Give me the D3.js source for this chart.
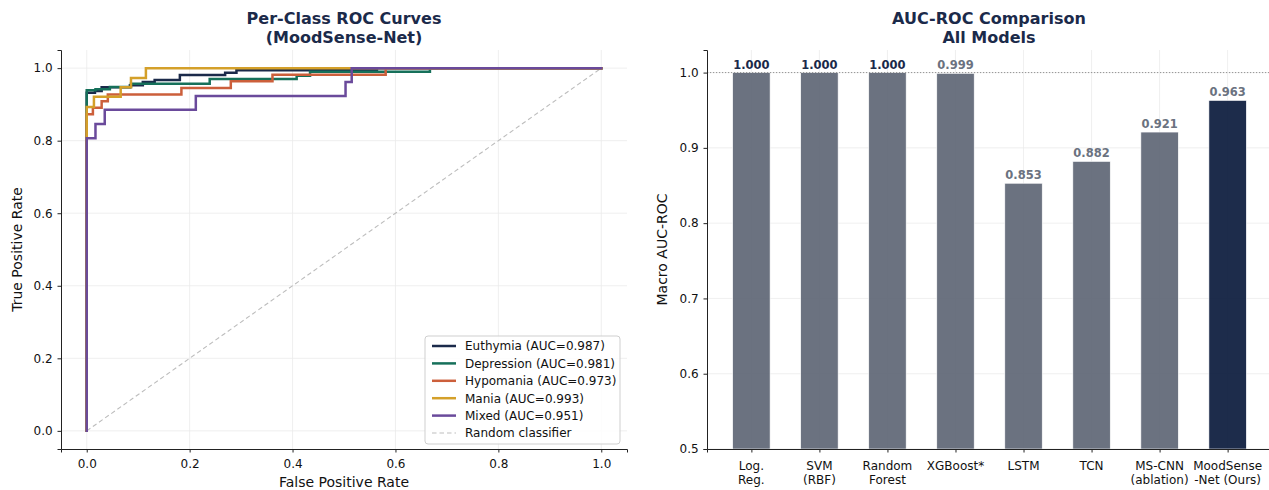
<!DOCTYPE html>
<html>
<head>
<meta charset="utf-8">
<script src="https://cdn.jsdelivr.net/npm/d3@7"></script>
<style>
  html, body { margin: 0; padding: 0; background: #ffffff; }
  svg { display: block; font-family: "DejaVu Sans", sans-serif; }
</style>
</head>
<body>
<svg id="fig" width="1269" height="490"></svg>
<script>
// ---- ROC curves per class (step points: [fpr, tpr]) ----
const classNames = ["Euthymia", "Depression", "Hypomania", "Mania", "Mixed"];
const classAUC = [0.987, 0.981, 0.973, 0.993, 0.951];

const rocEuthymia = [[0, 0], [0, 0.932], [0.016, 0.932], [0.016, 0.937], [0.029, 0.937], [0.029, 0.947],
  [0.084, 0.947], [0.084, 0.953], [0.109, 0.953], [0.109, 0.962], [0.132, 0.962], [0.132, 0.967],
  [0.181, 0.967], [0.181, 0.981], [0.269, 0.981], [0.269, 0.987], [0.291, 0.987], [0.291, 0.994],
  [0.564, 0.994], [0.564, 1], [1, 1]];
const rocDepression = [[0, 0], [0, 0.939], [0.017, 0.939], [0.017, 0.942], [0.045, 0.942], [0.045, 0.948],
  [0.086, 0.948], [0.086, 0.957], [0.239, 0.957], [0.239, 0.970], [0.408, 0.970], [0.408, 0.979],
  [0.434, 0.979], [0.434, 0.990], [0.667, 0.990], [0.667, 1], [1, 1]];
const rocHypomania = [[0, 0], [0, 0.873], [0.012, 0.873], [0.012, 0.891], [0.029, 0.891], [0.029, 0.909],
  [0.041, 0.909], [0.041, 0.927], [0.184, 0.927], [0.184, 0.945], [0.280, 0.945], [0.280, 0.964],
  [0.361, 0.964], [0.361, 0.982], [0.581, 0.982], [0.581, 1], [1, 1]];
const rocMania = [[0, 0], [0, 0.893], [0.014, 0.893], [0.014, 0.921], [0.066, 0.921], [0.066, 0.947],
  [0.086, 0.947], [0.086, 0.973], [0.115, 0.973], [0.115, 1], [1, 1]];
const rocMixed = [[0, 0], [0, 0.807], [0.017, 0.807], [0.017, 0.846], [0.035, 0.846], [0.035, 0.885],
  [0.212, 0.885], [0.212, 0.923], [0.503, 0.923], [0.503, 0.962], [0.515, 0.962], [0.515, 1], [1, 1]];
const rocCurves = [rocEuthymia, rocDepression, rocHypomania, rocMania, rocMixed];
const chanceLine = [[0, 0], [1, 1]];
const rocTicks = [0, 0.2, 0.4, 0.6, 0.8, 1.0];

// ---- Macro AUC-ROC per model ----
const modelLabels = [["Log.", "Reg."], ["SVM", "(RBF)"], ["Random", "Forest"], ["XGBoost*"], ["LSTM"],
  ["TCN"], ["MS-CNN", "(ablation)"], ["MoodSense", "-Net (Ours)"]];
const modelAUC = [1.000, 1.000, 1.000, 0.999, 0.853, 0.882, 0.921, 0.963];
const aucTicks = [0.5, 0.6, 0.7, 0.8, 0.9, 1.0];

const classColors = ["#1b2a4a", "#16705a", "#cc5f3b", "#d4a02a", "#6a4a9b"];
const NAVY = "#1b2a4a", GREY = "#6b7280";
const BAR_GREY = "#5e6675", BAR_NAVY = "#0a1a3c";

const svg = d3.select("#fig");
const font = "DejaVu Sans, sans-serif";

// ===================== left panel: ROC =====================
const L = { x0: 61, x1: 627, y0: 50, y1: 449 };
const xL = d3.scaleLinear().domain([-0.05, 1.05]).range([L.x0, L.x1]);
const yL = d3.scaleLinear().domain([-0.05, 1.05]).range([L.y1, L.y0]);
const gL = svg.append("g");

// grid
gL.append("g").selectAll("line.gx").data(rocTicks).join("line")
  .attr("x1", d => xL(d)).attr("x2", d => xL(d)).attr("y1", L.y0).attr("y2", L.y1)
  .attr("stroke", "#ebebeb").attr("stroke-width", 0.8);
gL.append("g").selectAll("line.gy").data(rocTicks).join("line")
  .attr("x1", L.x0).attr("x2", L.x1).attr("y1", d => yL(d)).attr("y2", d => yL(d))
  .attr("stroke", "#ebebeb").attr("stroke-width", 0.8);

const lineL = d3.line().x(d => xL(d[0])).y(d => yL(d[1]));

// chance diagonal
gL.append("path").datum(chanceLine).attr("d", lineL)
  .attr("fill", "none").attr("stroke", "#bdbdbd").attr("stroke-width", 1.1)
  .attr("stroke-dasharray", "4.5,3");

// class curves
rocCurves.forEach((pts, i) => {
  gL.append("path").datum(pts).attr("d", lineL)
    .attr("fill", "none").attr("stroke", classColors[i]).attr("stroke-width", 2.5)
    .attr("stroke-linejoin", "miter").attr("stroke-linecap", "square");
});

// axes
const axL = gL.append("g").attr("transform", `translate(0,${L.y1})`)
  .call(d3.axisBottom(xL).tickValues(rocTicks).tickFormat(d3.format(".1f")).tickSizeOuter(0).tickSize(3.5));
const ayL = gL.append("g").attr("transform", `translate(${L.x0},0)`)
  .call(d3.axisLeft(yL).tickValues(rocTicks).tickFormat(d3.format(".1f")).tickSizeOuter(0).tickSize(3.5));
[axL, ayL].forEach(a => {
  a.select(".domain").attr("stroke", "#222").attr("stroke-width", 1);
  a.selectAll(".tick line").attr("stroke", "#222");
  a.selectAll(".tick text").attr("font-family", font).attr("font-size", 12).attr("fill", "#111");
});
axL.selectAll(".tick text").attr("dy", "1.05em");
ayL.selectAll(".tick text").attr("dx", "-0.15em");

gL.append("text").attr("x", (L.x0 + L.x1) / 2).attr("y", 487).attr("text-anchor", "middle")
  .attr("font-size", 14).attr("fill", "#111").text("False Positive Rate");
gL.append("text").attr("transform", `translate(22,${(L.y0 + L.y1) / 2}) rotate(-90)`)
  .attr("text-anchor", "middle").attr("font-size", 14).attr("fill", "#111").text("True Positive Rate");

const tL = gL.append("text").attr("text-anchor", "middle").attr("font-size", 16)
  .attr("font-weight", "bold").attr("fill", NAVY);
tL.append("tspan").attr("x", (L.x0 + L.x1) / 2).attr("y", 24).text("Per-Class ROC Curves");
tL.append("tspan").attr("x", (L.x0 + L.x1) / 2).attr("y", 43).text("(MoodSense-Net)");

// legend
const leg = gL.append("g").attr("transform", "translate(425,336)");
leg.append("rect").attr("width", 195).attr("height", 108).attr("rx", 3)
  .attr("fill", "white").attr("fill-opacity", 0.85).attr("stroke", "#cfcfcf").attr("stroke-width", 1);
const legendItems = classNames.map((n, i) => ({ label: `${n} (AUC=${classAUC[i].toFixed(3)})`, color: classColors[i], dash: null, w: 2.5 }))
  .concat([{ label: "Random classifier", color: "#bdbdbd", dash: "4.5,3", w: 1.1 }]);
legendItems.forEach((it, i) => {
  const y = 10 + i * 17.4;
  leg.append("line").attr("x1", 7).attr("x2", 31).attr("y1", y).attr("y2", y)
    .attr("stroke", it.color).attr("stroke-width", it.w).attr("stroke-dasharray", it.dash);
  leg.append("text").attr("x", 40).attr("y", y + 4.3).attr("font-size", 12).attr("fill", "#111").text(it.label);
});

// ===================== right panel: AUC bars =====================
const R = { x0: 707, x1: 1272, y0: 50, y1: 449 };
const xR = d3.scaleLinear().domain([-0.6525, modelAUC.length - 1 + 0.6525]).range([R.x0, R.x1]);
const yR = d3.scaleLinear().domain([0.5, 1.03]).range([R.y1, R.y0]);
const bw = (xR(0.55) - xR(0));
const gR = svg.append("g");
const idx = d3.range(modelAUC.length);

gR.append("g").selectAll("line").data(idx).join("line")
  .attr("x1", d => xR(d)).attr("x2", d => xR(d)).attr("y1", R.y0).attr("y2", R.y1)
  .attr("stroke", "#ebebeb").attr("stroke-width", 0.8);
gR.append("g").selectAll("line").data(aucTicks).join("line")
  .attr("x1", R.x0).attr("x2", R.x1).attr("y1", d => yR(d)).attr("y2", d => yR(d))
  .attr("stroke", "#ebebeb").attr("stroke-width", 0.8);

gR.append("g").selectAll("rect").data(idx).join("rect")
  .attr("x", d => xR(d) - bw / 2).attr("width", bw)
  .attr("y", d => yR(modelAUC[d])).attr("height", d => yR(0.5) - yR(modelAUC[d]))
  .attr("fill", d => d === modelAUC.length - 1 ? BAR_NAVY : BAR_GREY).attr("fill-opacity", 0.92)
  .attr("stroke", "white").attr("stroke-width", 0.6);

// reference line at perfect AUC
gR.append("line").attr("x1", R.x0).attr("x2", R.x1).attr("y1", yR(1)).attr("y2", yR(1))
  .attr("stroke", "#888").attr("stroke-width", 0.9).attr("stroke-dasharray", "1.2,1.8");

gR.append("g").selectAll("text").data(idx).join("text")
  .attr("x", d => xR(d)).attr("y", d => yR(modelAUC[d]) - 4)
  .attr("text-anchor", "middle").attr("font-size", 11.5).attr("font-weight", "bold")
  .attr("fill", d => modelAUC[d] >= 0.9995 ? NAVY : GREY)
  .text(d => modelAUC[d].toFixed(3));

const axR = gR.append("g").attr("transform", `translate(0,${R.y1})`)
  .call(d3.axisBottom(xR).tickValues(idx).tickFormat("").tickSizeOuter(0).tickSize(3.5));
const ayR = gR.append("g").attr("transform", `translate(${R.x0},0)`)
  .call(d3.axisLeft(yR).tickValues(aucTicks).tickFormat(d3.format(".1f")).tickSizeOuter(0).tickSize(3.5));
[axR, ayR].forEach(a => {
  a.select(".domain").attr("stroke", "#222").attr("stroke-width", 1);
  a.selectAll(".tick line").attr("stroke", "#222");
  a.selectAll(".tick text").attr("font-family", font).attr("font-size", 12).attr("fill", "#111");
});
ayR.selectAll(".tick text").attr("dx", "-0.15em");

// two-line category labels
gR.append("g").selectAll("text").data(idx).join("text")
  .attr("text-anchor", "middle").attr("font-size", 12).attr("fill", "#111")
  .each(function (d) {
    const t = d3.select(this);
    modelLabels[d].forEach((s, k) => {
      t.append("tspan").attr("x", xR(d)).attr("y", 470 + k * 13.5).text(s);
    });
  });

gR.append("text").attr("transform", `translate(667,${(R.y0 + R.y1) / 2}) rotate(-90)`)
  .attr("text-anchor", "middle").attr("font-size", 14).attr("fill", "#111").text("Macro AUC-ROC");

const tR = gR.append("text").attr("text-anchor", "middle").attr("font-size", 16)
  .attr("font-weight", "bold").attr("fill", NAVY);
tR.append("tspan").attr("x", 989).attr("y", 24).text("AUC-ROC Comparison");
tR.append("tspan").attr("x", 989).attr("y", 43).text("All Models");
</script>
</body>
</html>
